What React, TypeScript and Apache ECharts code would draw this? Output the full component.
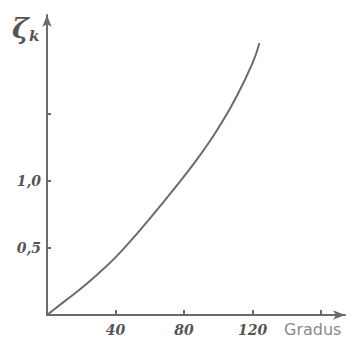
import React, { useEffect, useRef } from "react";
import * as echarts from "echarts";

const xValues = [0, 10, 20, 30, 40, 50, 60, 70, 80, 90, 100, 110, 120, 124];
const zetaValues = [0, 0.1, 0.2, 0.31, 0.43, 0.57, 0.72, 0.875, 1.035, 1.205, 1.395, 1.615, 1.88, 2.03];
const xTicks = [40, 80, 120, 160];
const xTickLabels = [40, 80, 120];
const yTicks = [0.5, 1.0, 1.5];
const yTickLabels = [0.5, 1.0];

const INK = "#6b6b6b";

export default function App() {
  const ref = useRef<HTMLDivElement>(null);
  useEffect(() => {
    if (!ref.current) return;
    const chart = echarts.init(ref.current, undefined, { renderer: "svg" });
    chart.setOption({
      animation: false,
      backgroundColor: "#ffffff",
      grid: { left: 47, right: 18, top: 15, bottom: 27 },
      xAxis: {
        type: "value",
        min: 0,
        max: 174,
        splitLine: { show: false },
        axisLine: {
          lineStyle: { color: INK, width: 2 },
          symbol: ["none", "arrow"],
          symbolSize: [7, 12],
        },
        axisTick: {
          length: 5,
          inside: true,
          customValues: xTicks,
          lineStyle: { color: INK, width: 2 },
        },
        axisLabel: {
          customValues: xTickLabels,
          margin: 8,
          color: "#555",
          fontSize: 14,
          fontStyle: "italic",
          fontWeight: "bold",
          fontFamily: "DejaVu Serif",
        },
      },
      yAxis: {
        type: "value",
        min: 0,
        max: 2.24,
        splitLine: { show: false },
        axisLine: {
          lineStyle: { color: INK, width: 2 },
          symbol: ["none", "arrow"],
          symbolSize: [7, 12],
        },
        axisTick: {
          length: 4,
          inside: true,
          customValues: yTicks,
          lineStyle: { color: INK, width: 2 },
        },
        axisLabel: {
          customValues: yTickLabels,
          margin: 6,
          color: "#555",
          fontSize: 14,
          fontStyle: "italic",
          fontWeight: "bold",
          fontFamily: "DejaVu Serif",
          formatter: (v: number) => v.toFixed(1).replace(".", ","),
        },
      },
      graphic: [
        {
          type: "text",
          left: 12,
          top: 14,
          style: {
            text: "ζ",
            fontSize: 28,
            fontStyle: "italic",
            fontWeight: "bold",
            fontFamily: "DejaVu Serif",
            fill: "#555",
          },
        },
        {
          type: "text",
          left: 29,
          top: 28,
          style: {
            text: "k",
            fontSize: 15,
            fontStyle: "italic",
            fontWeight: "bold",
            fontFamily: "DejaVu Serif",
            fill: "#555",
          },
        },
        {
          type: "text",
          left: 284,
          top: 321,
          style: {
            text: "Gradus",
            fontSize: 16,
            fontFamily: "DejaVu Sans",
            fill: "#8a8a8a",
          },
        },
      ],
      series: [
        {
          type: "line",
          data: xValues.map((x, i) => [x, zetaValues[i]]),
          smooth: true,
          showSymbol: false,
          lineStyle: { color: INK, width: 2 },
        },
      ],
    });
    return () => chart.dispose();
  }, []);
  return (
    <div
      ref={ref}
      style={{ position: "fixed", left: 0, top: 0, width: 363, height: 342 }}
    />
  );
}
